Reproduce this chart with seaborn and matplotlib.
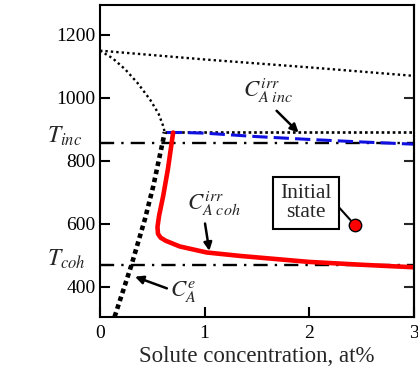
import matplotlib
matplotlib.use("Agg")
import matplotlib.pyplot as plt
import matplotlib.transforms as mtransforms
import seaborn as sns
import pandas as pd

# Phase-diagram style curves (solute concentration in at%, temperature in K)
liquidus_x = [0.0, 1.0, 2.0, 3.0]
liquidus_t = [1150, 1122, 1097, 1070]

solvus_x = [0.0, 0.12, 0.24, 0.36, 0.48, 0.56, 0.60, 0.62]
solvus_t = [1150, 1126, 1091, 1047, 994, 950, 915, 891]

plateau_x = [0.62, 3.0]
plateau_t = [891, 891]

ce_x = [0.14, 0.30, 0.43, 0.51, 0.62]
ce_t = [305, 468, 615, 720, 891]

inc_x = [0.64, 0.80, 1.0, 1.5, 2.0, 2.5, 3.0]
inc_t = [890, 890, 888, 877, 868, 860, 853]

coh_x = [0.70, 0.65, 0.605, 0.565, 0.55, 0.555, 0.58, 0.63, 0.764, 1.02, 1.34, 2.0, 2.5, 3.0]
coh_t = [890, 774, 689, 625, 590, 568, 556, 546, 528, 509, 498, 479, 470, 462]

T_inc = 858
T_coh = 468

initial_x = [2.44]
initial_t = [596]

x_ticks = [0, 1, 2, 3]
y_ticks = [400, 600, 800, 1000, 1200]

sns.set_theme(style="ticks")
plt.rcParams["font.family"] = ["Liberation Serif", "DejaVu Serif"]
plt.rcParams["mathtext.fontset"] = "stix"

fig = plt.figure(figsize=(4.18, 3.74), dpi=100)
ax = fig.add_axes([100 / 418, 1 - 317 / 374, 313.5 / 418, 312 / 374])


def curve(x, t, **kw):
    df = pd.DataFrame({"x": x, "t": t})
    sns.lineplot(data=df, x="x", y="t", sort=False, estimator=None, ax=ax, **kw)


curve(liquidus_x, liquidus_t, color="black", lw=1.7, dashes=(1, 1.3))
curve(solvus_x, solvus_t, color="black", lw=1.7, dashes=(1, 1.3))
curve(plateau_x, plateau_t, color="black", lw=1.9, dashes=(1, 1.1))
curve(ce_x, ce_t, color="black", lw=3.3, dashes=(1, 0.8))

for tv in (T_inc, T_coh):
    curve([0, 3], [tv, tv], color="black", lw=1.7, dashes=(6, 3, 1, 3))

curve(inc_x, inc_t, color="#1010e0", lw=2.2, dashes=(5, 2))
curve(coh_x, coh_t, color="#ff0000", lw=3.3)

sns.scatterplot(x=initial_x, y=initial_t, ax=ax, s=80, color="#ff0000",
                edgecolor="black", linewidth=1.0, zorder=5)

ax.set_xlim(0, 3)
ax.set_ylim(304, 1295)
ax.set_xticks(x_ticks)
ax.set_yticks(y_ticks + [T_inc, T_coh])
ax.set_yticklabels([str(v) for v in y_ticks] + ["", ""])

for s in ax.spines.values():
    s.set_linewidth(1.5)
    s.set_color("black")
ax.tick_params(axis="both", direction="in", length=7, width=1.5,
               labelsize=14, colors="black", pad=3)
ax.tick_params(axis="x", pad=6)

# right-hand ticks without labels
sec = ax.secondary_yaxis("right")
sec.set_yticks([400, 600, 800, 1000])
sec.set_yticklabels([])
sec.tick_params(direction="in", length=7, width=1.5)
sec.spines["right"].set_linewidth(1.5)

# temperature labels on the left
trans = mtransforms.blended_transform_factory(fig.transFigure, ax.transData)
ax.text(47 / 418, T_inc, r"$T_{inc}$", transform=trans, ha="left",
        va="baseline", fontsize=17)
ax.text(47 / 418, T_coh, r"$T_{coh}$", transform=trans, ha="left",
        va="baseline", fontsize=17)

ax.set_xlabel("Solute concentration, at%", fontsize=16.5, labelpad=3)
ax.set_ylabel("Temperature, K", fontsize=16.5)
ax.yaxis.label.set_transform(mtransforms.blended_transform_factory(
    fig.transFigure, ax.transAxes))
ax.yaxis.label.set_position((23 / 418, 0.487))
ax.yaxis.label.set_verticalalignment("center")

arrow = dict(arrowstyle="-|>", color="black", lw=1.8, mutation_scale=12,
             shrinkA=0, shrinkB=0)

ax.annotate("", xy=(1.90, 890), xytext=(1.69, 959), arrowprops=arrow)
ax.text(1.61, 1023, r"$C^{irr}_{A\ inc}$", ha="center", va="center", fontsize=16.5)

ax.annotate("", xy=(1.046, 514), xytext=(1.005, 601), arrowprops=arrow)
ax.text(1.09, 664, r"$C^{irr}_{A\ coh}$", ha="center", va="center", fontsize=16.5)

ax.annotate("", xy=(0.335, 432), xytext=(0.64, 395), arrowprops=arrow)
ax.text(0.80, 386, r"$C^{e}_{A}$", ha="center", va="center", fontsize=16.5)

ax.annotate("Initial\nstate", xy=(initial_x[0], initial_t[0]), xytext=(1.97, 666),
            ha="center", va="center", fontsize=15.5, linespacing=1.05,
            bbox=dict(boxstyle="square,pad=0.33", fc="white", ec="black", lw=1.5),
            arrowprops=dict(arrowstyle="-", color="black", lw=1.5,
                            relpos=(1, 0.6), shrinkA=0, shrinkB=5))

fig.savefig("out.png", dpi=100)
